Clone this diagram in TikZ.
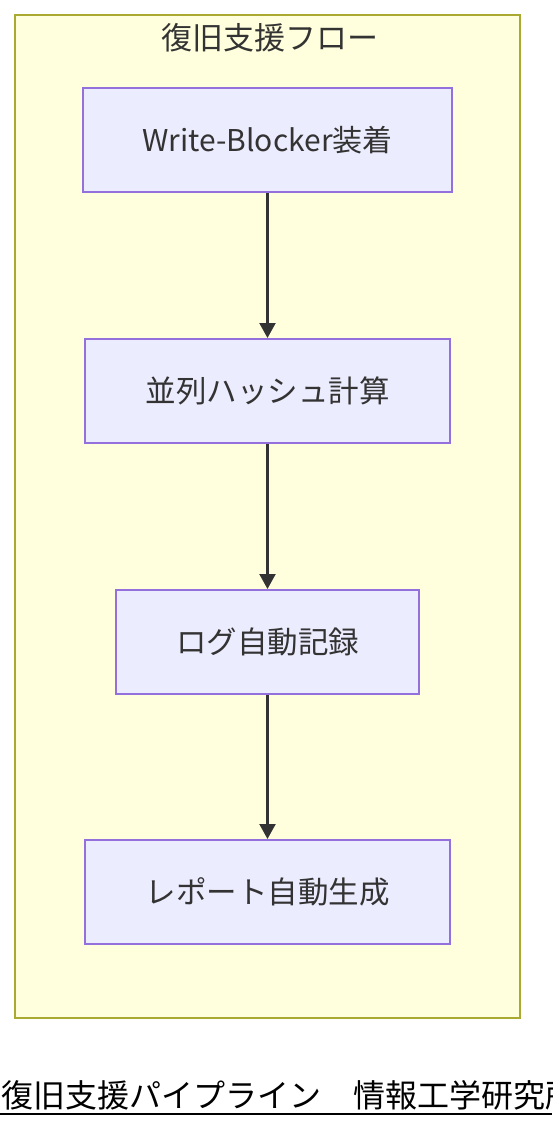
\documentclass[tikz,border=0pt]{standalone}
\usepackage{fontspec}
\setmainfont{Noto Sans CJK JP}
\usetikzlibrary{arrows.meta}
\definecolor{clusterfill}{HTML}{FFFFDE}
\definecolor{clusterline}{HTML}{AAAA33}
\definecolor{nodefill}{HTML}{ECECFF}
\definecolor{nodeline}{HTML}{9370DB}
\definecolor{txt}{HTML}{333333}
\tikzset{
  stepbox/.style={draw=nodeline, fill=nodefill, line width=2pt, minimum height=104pt,
    text=txt, font=\fontsize{30.5}{34}\selectfont, inner sep=0pt, anchor=center},
  flow/.style={draw=txt, line width=2.2pt, -{Triangle[length=15pt,width=16pt]}}
}
\begin{document}
\begin{tikzpicture}[x=1pt,y=-1pt]
\useasboundingbox (0,0) rectangle (552,1128);
\clip (0,0) rectangle (552,1128);
\fill[white] (0,0) rectangle (552,1128);
\draw[draw=clusterline, fill=clusterfill, line width=2pt] (15,15) rectangle (520,1018);
\node[text=txt, font=\fontsize{31}{34}\selectfont] (title) at (270,38) {復旧支援フロー};
\node[stepbox, minimum width=369pt, font=\fontsize{30}{34}\selectfont] (n1) at (267.5,140) {Write-Blocker装着};
\node[stepbox, minimum width=365pt] (n2) at (267.5,391) {並列ハッシュ計算};
\node[stepbox, minimum width=303pt] (n3) at (267.5,642) {ログ自動記録};
\node[stepbox, minimum width=365pt] (n4) at (267.5,892) {レポート自動生成};
\draw[flow] (n1) -- (n2);
\draw[flow] (n2) -- (n3);
\draw[flow] (n3) -- (n4);
\node[anchor=base west, inner sep=0pt, font=\fontsize{32}{36}\selectfont, text=black] (foot) at (1,1107) {復旧支援パイプライン　情報工学研究所};
\coordinate (ulA) at (0,1114);
\coordinate (ulB) at (552,1114);
\draw[black, line width=2.5pt] (ulA) -- (ulB);
\end{tikzpicture}
\end{document}
